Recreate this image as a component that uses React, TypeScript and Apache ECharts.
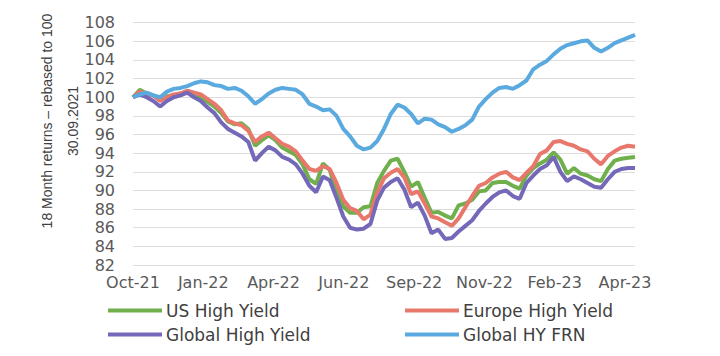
import React, { useEffect, useRef } from "react";
import * as echarts from "echarts";

const xLabels = ["Oct-21", "Jan-22", "Apr-22", "Jun-22", "Sep-22", "Nov-22", "Feb-23", "Apr-23"];

const usHighYield = [
  100.0, 100.8, 100.4, 100.2, 99.8, 100.1, 100.2, 100.4, 100.7, 100.4,
  100.0, 99.5, 99.0, 98.3, 97.4, 97.1, 97.2, 96.6, 94.8, 95.4,
  95.9, 95.4, 94.6, 94.2, 93.8, 92.8, 91.2, 90.7, 92.9, 92.2,
  89.8, 88.3, 87.6, 87.6, 88.2, 88.3, 90.8, 92.1, 93.2, 93.4,
  92.0, 90.4, 90.9, 89.2, 87.6, 87.7, 87.3, 87.0, 88.4, 88.6,
  89.0, 89.9, 90.0, 90.8, 90.9, 90.9, 90.5, 90.2, 91.6, 92.4,
  92.9, 93.3, 94.1, 93.3, 91.8, 92.4, 91.8, 91.6, 91.2, 91.0,
  92.3, 93.2, 93.4, 93.5, 93.6,
];

const europeHighYield = [
  100.0, 100.6, 100.3, 100.2, 99.6, 100.0, 100.3, 100.4, 100.7, 100.5,
  100.3, 99.8, 99.3, 98.6, 97.5, 97.2, 97.0, 96.4, 95.2, 95.8,
  96.2, 95.6, 95.0, 94.7, 94.2, 93.2, 92.3, 92.1, 92.6, 92.3,
  90.8, 89.0, 88.1, 87.8, 86.9, 87.4, 89.8, 91.3, 91.9, 92.3,
  91.4, 89.6, 89.9, 88.6, 87.2, 87.0, 86.6, 86.2, 87.0, 88.2,
  89.4, 90.5, 90.8, 91.4, 91.8, 92.0, 91.4, 91.1, 91.9, 92.6,
  93.9, 94.3, 95.2, 95.3, 95.0, 94.8, 94.4, 94.2, 93.4, 92.8,
  93.7, 94.2, 94.6, 94.8, 94.7,
];

const globalHighYield = [
  100.0, 100.3, 100.0, 99.6, 99.0, 99.6, 100.0, 100.2, 100.5, 100.0,
  99.6, 98.9, 98.3, 97.3, 96.6, 96.2, 95.8, 95.2, 93.2, 94.0,
  94.7, 94.3, 93.6, 93.3, 92.8, 91.8, 90.5, 89.8, 91.5, 91.1,
  89.2, 87.2, 86.0, 85.8, 85.9, 86.4, 88.9, 90.3, 90.9, 91.3,
  90.1, 88.2, 88.7, 87.3, 85.4, 85.8, 84.8, 84.9, 85.6, 86.2,
  86.8, 87.8, 88.6, 89.3, 89.8, 90.0, 89.4, 89.1, 90.8, 91.6,
  92.3, 92.7, 93.6, 92.0, 91.0, 91.5, 91.2, 90.8, 90.4, 90.3,
  91.2, 92.0, 92.3, 92.4, 92.4,
];

const globalHyFrn = [
  100.0, 100.3, 100.5, 100.2, 100.0, 100.6, 100.9, 101.0, 101.2, 101.5,
  101.7, 101.6, 101.3, 101.2, 100.9, 101.0, 100.7, 100.1, 99.3, 99.8,
  100.4, 100.8, 101.0, 100.9, 100.8, 100.3, 99.3, 99.0, 98.6, 98.7,
  98.0, 96.6, 95.8, 94.8, 94.4, 94.6, 95.3, 96.6, 98.2, 99.2,
  98.9, 98.2, 97.2, 97.7, 97.6, 97.1, 96.8, 96.3, 96.6, 97.0,
  97.6, 99.0, 99.8, 100.5, 101.0, 101.1, 100.9, 101.3, 101.8, 103.0,
  103.5, 103.9, 104.6, 105.2, 105.6, 105.8, 106.0, 106.1, 105.3, 104.9,
  105.3, 105.8, 106.1, 106.4, 106.7,
];

const seriesNames = ["US High Yield", "Europe High Yield", "Global High Yield", "Global HY FRN"];
const seriesColors = ["#6FAF4C", "#E8786C", "#7468B8", "#5AAADF"];
const seriesData = [usHighYield, europeHighYield, globalHighYield, globalHyFrn];

const LABEL_STEP = 10.36;
const AXIS_FONT = "DejaVu Sans, Verdana, sans-serif";
const TITLE_FONT = "Liberation Sans, Arial, sans-serif";

export default function App() {
  const ref = useRef<HTMLDivElement>(null);
  useEffect(() => {
    if (!ref.current) return;
    const chart = echarts.init(ref.current, null, { renderer: "svg" });
    const legendPos = [
      { left: 108, top: 302 },
      { left: 405, top: 302 },
      { left: 108, top: 326 },
      { left: 405, top: 326 },
    ];
    chart.setOption({
      animation: false,
      backgroundColor: "#ffffff",
      grid: { left: 133, right: 85, top: 22.7, bottom: 91, containLabel: false },
      legend: seriesNames.map((n, i) => ({
        data: [n],
        left: legendPos[i].left,
        top: legendPos[i].top,
        icon: "rect",
        itemWidth: 54,
        itemHeight: 4,
        itemGap: 0,
        padding: 0,
        textStyle: { fontFamily: AXIS_FONT, fontSize: 17, color: "#404040", padding: [0, 0, 0, -1] },
      })),
      xAxis: {
        type: "value",
        min: 0,
        max: seriesData[0].length - 1,
        interval: LABEL_STEP,
        axisLine: { show: false },
        axisTick: { show: false },
        splitLine: { show: false },
        axisLabel: {
          margin: 9,
          fontFamily: AXIS_FONT,
          fontSize: 16,
          color: "#595959",
          showMaxLabel: false,
          formatter: (v: number) => {
            const k = Math.round(v / LABEL_STEP);
            return xLabels[k] ?? "";
          },
        },
      },
      yAxis: {
        type: "value",
        min: 82,
        max: 108,
        interval: 2,
        axisLine: { show: false },
        axisTick: { show: false },
        splitLine: { lineStyle: { color: "#DDDDDD", width: 1 } },
        axisLabel: { margin: 18, fontFamily: AXIS_FONT, fontSize: 16, color: "#595959" },
      },
      graphic: [
        {
          type: "text",
          x: 47,
          y: 121,
          rotation: Math.PI / 2,
          style: {
            text: "18 Month returns \u2013 rebased to 100",
            fontFamily: TITLE_FONT,
            fontSize: 14,
            fill: "#404040",
            textAlign: "center",
            textVerticalAlign: "middle",
          },
        },
        {
          type: "text",
          x: 73,
          y: 121,
          rotation: Math.PI / 2,
          style: {
            text: "30.09.2021",
            fontFamily: TITLE_FONT,
            fontSize: 14,
            fill: "#404040",
            textAlign: "center",
            textVerticalAlign: "middle",
          },
        },
      ],
      series: seriesNames.map((n, i) => ({
        name: n,
        type: "line",
        data: seriesData[i].map((v, j) => [j, v]),
        symbol: "none",
        color: seriesColors[i],
        lineStyle: { width: 4, color: seriesColors[i] },
      })),
    });
    return () => chart.dispose();
  }, []);
  return <div ref={ref} style={{ width: 720, height: 356, margin: -8 }} />;
}
